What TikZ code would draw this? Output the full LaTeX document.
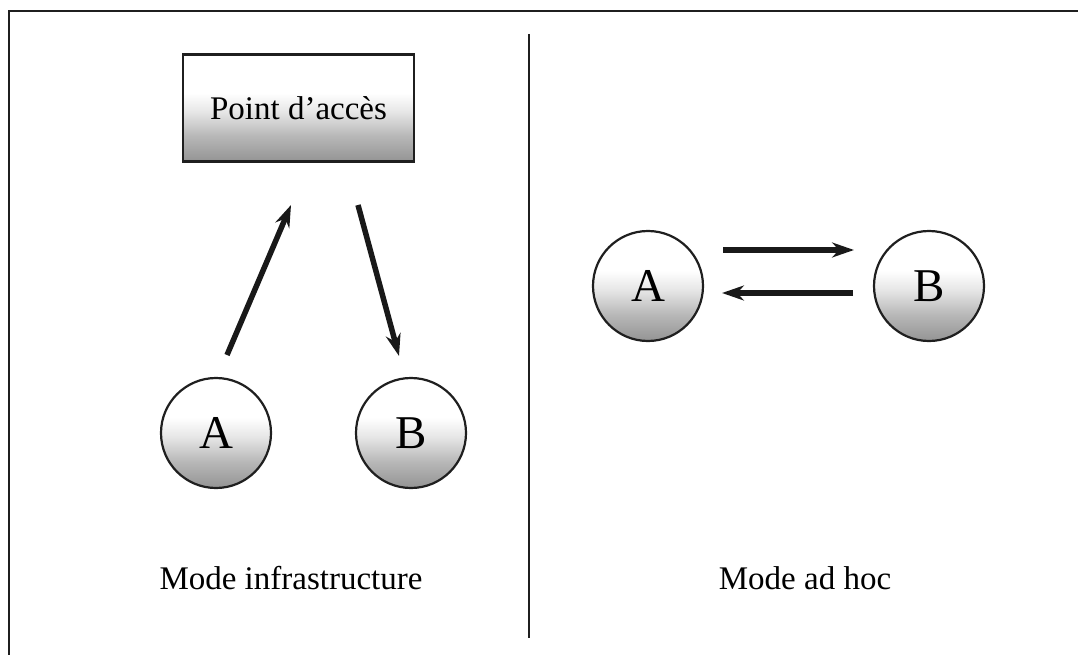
\documentclass[tikz,border=0pt]{standalone}
\usepackage{fontspec}
\setmainfont{Liberation Serif}
\usetikzlibrary{arrows.meta}
% white upper half fading to grey at the bottom (path spans 25bp..75bp)
\pgfdeclareverticalshading{whitegray}{100bp}{%
  color(0bp)=(black!42); color(25bp)=(black!42); color(37bp)=(black!28);
  color(48bp)=(black!10); color(57bp)=(white); color(100bp)=(white)}
\tikzset{
  grayfill/.style={draw=black!88, line width=2.2pt, shade, shading=whitegray},
  station/.style={grayfill, circle, minimum size=110pt, inner sep=0pt, font=\fontsize{47}{50}\selectfont},
  apbox/.style={grayfill, rectangle, minimum width=231pt, minimum height=107pt, inner sep=0pt, font=\fontsize{33}{38}\selectfont},
  caption/.style={font=\fontsize{33}{38}\selectfont, inner sep=0pt},
  frameline/.style={draw=black!88, line width=2.5pt},
  link/.style={draw=black!90, line width=5.5pt, -{Stealth[length=22pt,width=15pt]}}
}
\begin{document}
\begin{tikzpicture}[x=1pt, y=-1pt]
  \useasboundingbox (0,0) rectangle (1078,655);
  % outer frame (top and left) and central divider
  \draw[frameline] (9,655) -- (9,11) -- (1078,11);
  \draw[frameline] (529,34) -- (529,638);

  % infrastructure mode
  \node[apbox] (ap) at (298.5,108) {Point d’accès};
  \node[station] (a1) at (216,433) {A};
  \node[station] (b1) at (411,433) {B};
  \coordinate (up0) at (227,355);
  \coordinate (up1) at (291,205);
  \coordinate (dn0) at (358,205);
  \coordinate (dn1) at (399,356);
  \draw[link] (up0) -- (up1);
  \draw[link] (dn0) -- (dn1);
  \node[caption] (infra) at (291,578) {Mode infrastructure};

  % ad hoc mode
  \node[station] (a2) at (648,286) {A};
  \node[station] (b2) at (929,286) {B};
  \coordinate (r0) at (723,250);
  \coordinate (r1) at (854,250);
  \coordinate (l0) at (853,293);
  \coordinate (l1) at (722,293);
  \draw[link] (r0) -- (r1);
  \draw[link] (l0) -- (l1);
  \node[caption] (adhoc) at (805,578) {Mode ad hoc};
\end{tikzpicture}
\end{document}
